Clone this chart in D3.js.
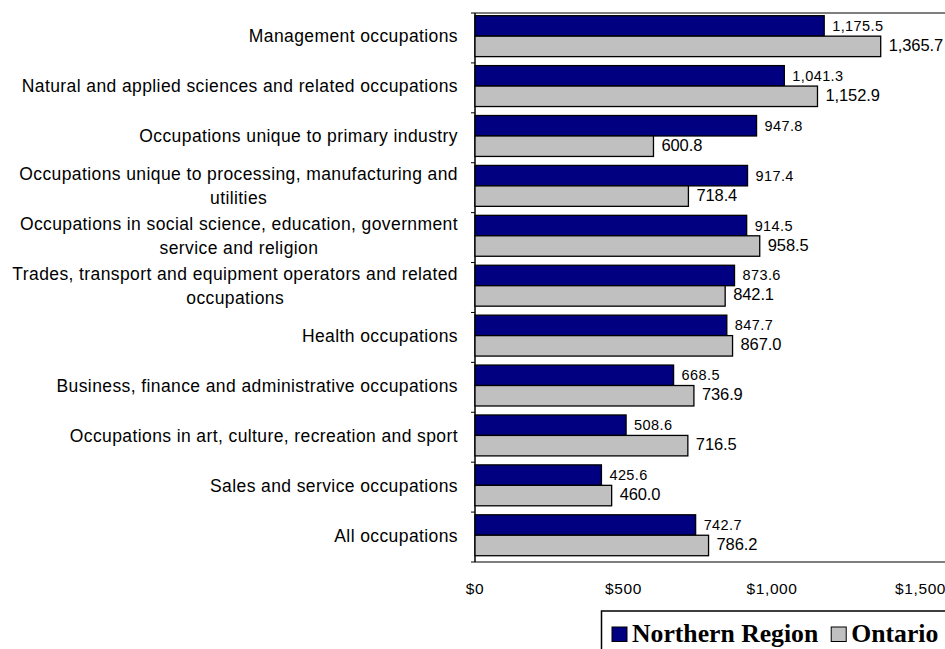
<!DOCTYPE html>
<html><head><meta charset="utf-8">
<script src="https://cdn.jsdelivr.net/npm/d3@7"></script>
<style>body{margin:0;background:#fff;overflow:hidden}</style>
</head><body>
<svg id="c" width="945" height="649"></svg>
<script>
const categories = [
  ["Management occupations"],
  ["Natural and applied sciences and related occupations"],
  ["Occupations unique to primary industry"],
  ["Occupations unique to processing, manufacturing and", "utilities"],
  ["Occupations in social science, education, government", "service and religion"],
  ["Trades, transport and equipment operators and related", "occupations"],
  ["Health occupations"],
  ["Business, finance and administrative occupations"],
  ["Occupations in art, culture, recreation and sport"],
  ["Sales and service occupations"],
  ["All occupations"]
];
const northern = [1175.5, 1041.3, 947.8, 917.4, 914.5, 873.6, 847.7, 668.5, 508.6, 425.6, 742.7];
const ontario  = [1365.7, 1152.9, 600.8, 718.4, 958.5, 842.1, 867.0, 736.9, 716.5, 460.0, 786.2];
const tickValues = [0, 500, 1000, 1500];
const tickLabels = ["$0", "$500", "$1,000", "$1,500"];
const seriesNames = ["Northern Region", "Ontario"];
const colors = ["#000080", "#C0C0C0"];

(function () {
const svg = d3.select("#c");
const pL = 475, pT = 13, pB = 562, pR = 955;
const x = d3.scaleLinear().domain([0, 1500]).range([pL, pL + 445.6]);
const y = d3.scaleBand().domain(d3.range(categories.length)).range([pT, pB]).paddingInner(0.18).paddingOuter(0.09).align(0.3);
const ySub = d3.scaleBand().domain([0, 1]).range([0, y.bandwidth()]);
const yCat = d3.scaleBand().domain(d3.range(categories.length)).range([pT, pB]);
const fmt = d3.format(",.1f");
const sans = "Liberation Sans, Arial, sans-serif";

svg.append("line").attr("x1", pL).attr("x2", pR).attr("y1", pT).attr("y2", pT).attr("stroke", "#000").attr("stroke-width", 1.2);
svg.append("line").attr("x1", pL).attr("x2", pR).attr("y1", pB).attr("y2", pB).attr("stroke", "#000").attr("stroke-width", 1.2);
svg.append("line").attr("x1", pL).attr("x2", pL).attr("y1", pT).attr("y2", pB).attr("stroke", "#000").attr("stroke-width", 1.5);

svg.append("g").selectAll("line").data(d3.range(categories.length + 1)).join("line")
  .attr("x1", pL - 4).attr("x2", pL)
  .attr("y1", i => i < categories.length ? yCat(i) : pB).attr("y2", i => i < categories.length ? yCat(i) : pB)
  .attr("stroke", "#000");

const series = [northern, ontario];
series.forEach((vals, s) => {
  svg.append("g").selectAll("rect").data(vals).join("rect")
    .attr("x", x(0)).attr("y", (d, i) => y(i) + ySub(s))
    .attr("width", d => x(d) - x(0)).attr("height", ySub.bandwidth())
    .attr("fill", colors[s]).attr("stroke", "#000").attr("stroke-width", 1.3);
  svg.append("g").selectAll("text").data(vals).join("text")
    .attr("x", d => x(d) + 8).attr("y", (d, i) => y(i) + ySub(s) + ySub.bandwidth() / 2 + (s === 0 ? 0 : -1.5))
    .attr("dominant-baseline", "central")
    .attr("font-family", sans)
    .attr("font-size", s === 0 ? 14.5 : 16.5)
    .attr("letter-spacing", s === 0 ? 0.4 : -0.1)
    .attr("fill", "#000")
    .text(d => fmt(d));
});

const lab = svg.append("g").attr("font-family", sans).attr("font-size", 17.5).attr("letter-spacing", 0.4).attr("fill", "#000");
const labRight = 458, lh = 24;
categories.forEach((lines, i) => {
  const cy = yCat(i) + yCat.bandwidth() / 2 - 1.5;
  const t = lab.append("text").attr("y", cy - (lines.length - 1) * lh / 2).attr("dominant-baseline", "central");
  if (lines.length === 1) {
    t.attr("x", labRight).attr("text-anchor", "end").text(lines[0]);
  } else {
    const spans = lines.map((l, j) => t.append("tspan").attr("dy", j === 0 ? 0 : lh).text(l));
    const w = d3.max(spans, sp => sp.node().getComputedTextLength());
    const cx = labRight - w / 2;
    t.attr("text-anchor", "middle");
    spans.forEach(sp => sp.attr("x", cx));
  }
});

svg.append("g").selectAll("text").data(tickValues).join("text")
  .attr("x", d => x(d)).attr("y", 588).attr("text-anchor", "middle").attr("dominant-baseline", "central")
  .attr("font-family", sans).attr("font-size", 15.5).attr("letter-spacing", 0.6).attr("fill", "#000")
  .text((d, i) => tickLabels[i]);

const lg = svg.append("g");
lg.append("rect").attr("x", 601.5).attr("y", 611).attr("width", 360).attr("height", 60).attr("fill", "#fff").attr("stroke", "#000").attr("stroke-width", 1.5);
let lx = 612;
seriesNames.forEach((n, i) => {
  lg.append("rect").attr("x", lx).attr("y", 627).attr("width", 15).attr("height", 14.5).attr("fill", colors[i]).attr("stroke", "#000").attr("stroke-width", 1);
  const t = lg.append("text").attr("x", lx + 20).attr("y", 641.5)
    .attr("font-family", "Liberation Serif, Times New Roman, serif").attr("font-weight", "bold").attr("font-size", 25.7).attr("fill", "#000").text(n);
  lx += 20 + t.node().getComputedTextLength() + 13;
});
})();
</script>
</body></html>
